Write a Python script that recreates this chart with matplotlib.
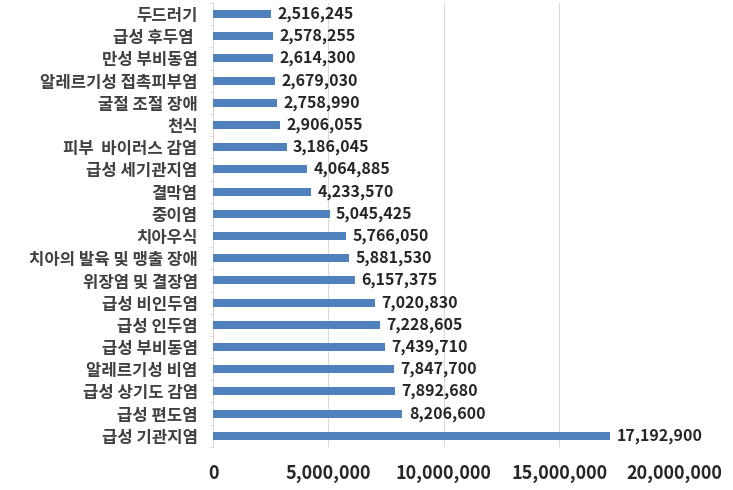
import matplotlib
matplotlib.use("Agg")
import matplotlib.pyplot as plt
import numpy as np

plt.rcParams['font.family'] = ['Noto Sans CJK KR', 'DejaVu Sans']

categories = ["두드러기", "급성 후두염 ", "만성 부비동염", "알레르기성 접촉피부염", "굴절 조절 장애",
              "천식", "피부  바이러스 감염", "급성 세기관지염", "결막염", "중이염",
              "치아우식", "치아의 발육 및 맹출 장애", "위장염 및 결장염", "급성 비인두염", "급성 인두염",
              "급성 부비동염", "알레르기성 비염", "급성 상기도 감염", "급성 편도염", "급성 기관지염"]
values = [2516245, 2578255, 2614300, 2679030, 2758990,
          2906055, 3186045, 4064885, 4233570, 5045425,
          5766050, 5881530, 6157375, 7020830, 7228605,
          7439710, 7847700, 7892680, 8206600, 17192900]
xticks = [0, 5000000, 10000000, 15000000, 20000000]

fig = plt.figure(figsize=(7.33, 4.90), dpi=100)
ax = fig.add_axes([0.2906, 0.088, 0.630, 0.906])

y = np.arange(len(categories))[::-1]
ax.barh(y, values, height=0.36, color='#4F81BD', zorder=3)
for yi, v in zip(y, values):
    ax.text(v + 280000, yi, f"{v:,}", va='center', ha='left', fontsize=11.5,
            fontweight='bold', color='#262626')

ax.set_ylim(-0.5, len(categories) - 0.5)
ax.set_xlim(0, 20000000)
ax.set_yticks(y)
ax.set_yticklabels(categories, fontsize=12, fontweight='bold', color='#404040')
ax.set_xticks(xticks)
ax.set_xticklabels([f"{t:,}" for t in xticks], fontsize=13, fontweight='bold', color='#262626')
ax.tick_params(axis='y', length=0, pad=11)
ax.tick_params(axis='x', length=0, pad=12)
ax.set_yticks(np.arange(-0.5, len(categories), 1), minor=True)
ax.tick_params(axis='y', which='minor', length=3, color='#D9D9D9')

ax.grid(axis='x', color='#D9D9D9', linewidth=0.8, zorder=0)
for s in ['top', 'right', 'bottom']:
    ax.spines[s].set_visible(False)
ax.spines['left'].set_color('#D9D9D9')

fig.savefig('out.png', dpi=100)
